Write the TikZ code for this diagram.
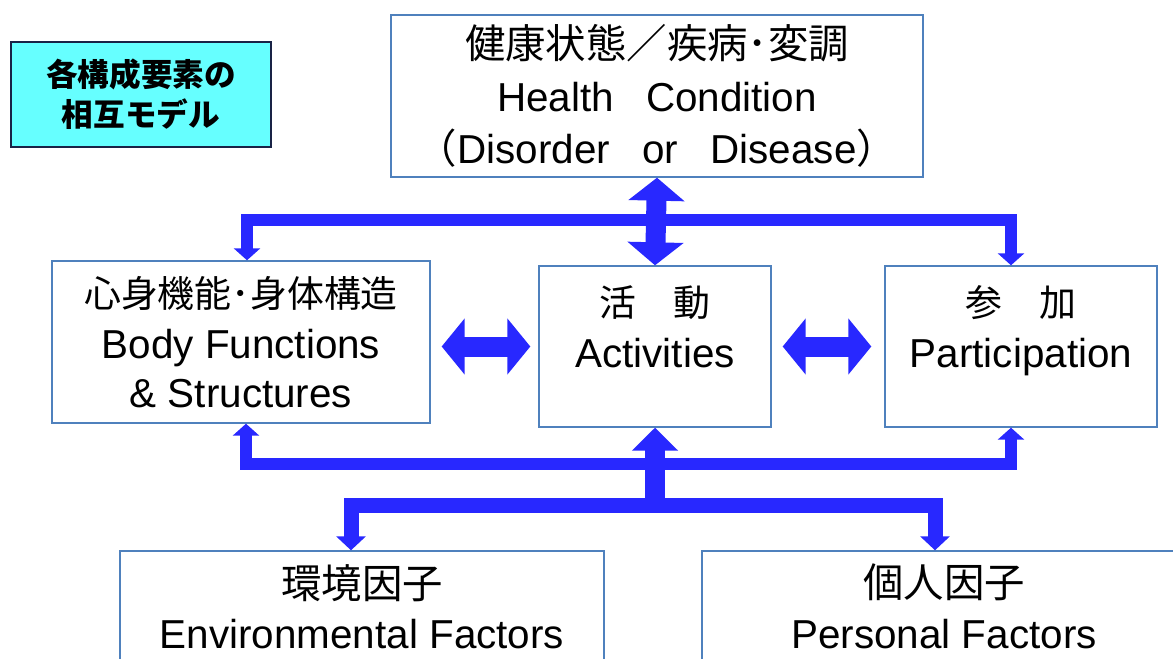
\documentclass[tikz,border=0pt]{standalone}
\usepackage{fontspec}
\setmainfont{Liberation Sans}
\newfontfamily\jp{Noto Sans CJK JP}
\usetikzlibrary{arrows.meta}

\definecolor{boxline}{RGB}{79,129,189}
\definecolor{arrowblue}{RGB}{40,40,255}
\definecolor{tagfill}{RGB}{102,255,255}
\definecolor{tagline}{RGB}{25,35,70}

\begin{document}
\begin{tikzpicture}[x=0.02cm,y=-0.02cm]
\tikzset{factor/.style={draw=boxline,line width=0.8pt,fill=white,align=center,inner sep=0pt,font=\fontsize{23}{29}\selectfont}}
\tikzset{tag/.style={draw=tagline,line width=1.2pt,fill=tagfill,align=center,inner sep=0pt,minimum width=5.2cm,minimum height=2.1cm,font=\jp\bfseries\fontsize{18}{23}\selectfont}}
\tikzset{blockarrow/.style={draw=arrowblue,line width=0.4cm}}
\tikzset{barline/.style={draw=arrowblue,line width=0.23cm}}
\tikzset{lowline/.style={draw=arrowblue,line width=0.3cm}}
\tikzset{bighead/.tip={Triangle[width=1.1cm,length=0.46cm]}}
\tikzset{uphead/.tip={Triangle[width=0.9cm,length=0.46cm]}}
\tikzset{smallhead/.tip={Triangle[width=0.52cm,length=0.24cm]}}
\tikzset{lowhead/.tip={Triangle[width=0.58cm,length=0.28cm]}}

\useasboundingbox (0,0) rectangle (1173,659);
\clip (0,0) rectangle (1173,659);

% boxes
\node[tag] (title) at (141,94.5) {各構成要素の\\相互モデル};
\node[factor,minimum width=10.64cm,minimum height=3.24cm,font=\fontsize{23}{30}\selectfont] (hc) at (657,96)
  {{\jp 健康状態／疾病･変調}\\Health\hspace{0.8em}Condition\\{\jp （}Disorder\hspace{0.8em}or\hspace{0.8em}Disease{\jp ）}};
\node[factor,minimum width=7.56cm,minimum height=3.24cm] (body) at (241,342)
  {{\jp\fontsize{21}{29}\selectfont 心身機能･身体構造}\\Body Functions\\[-0.05cm]\& Structures};
\node[factor,minimum width=4.64cm,minimum height=3.22cm] (act) at (655,346.5)
  {{\jp\fontsize{21}{29}\selectfont 活　動}\\Activities\\[-0.22cm]\mbox{}};
\node[factor,minimum width=5.44cm,minimum height=3.22cm] (part) at (1021,346.5)
  {{\jp\fontsize{21}{29}\selectfont 参　加}\\Participation\\[-0.22cm]\mbox{}};
\node[factor,minimum width=9.68cm,minimum height=3.44cm] (env) at (362,637)
  {{\jp 環境因子}\\Environmental Factors\\[0.2cm]\mbox{}};
\node[factor,minimum width=9.68cm,minimum height=3.44cm] (pers) at (944,637)
  {{\jp 個人因子}\\Personal Factors\\[0.2cm]\mbox{}};

% junctions
\coordinate (topjoin) at (hc.south |- 0,220);
\coordinate (midjoin) at (act.south |- 0,464);
\coordinate (lowjoin) at (act.south |- 0,505);

% arrows
\draw[blockarrow,bighead-bighead] (hc.south) -- (act.north);
\draw[barline,-smallhead] (topjoin) -| ([xshift=0.12cm]body.north);
\draw[barline,-smallhead] (topjoin) -| ([xshift=-0.2cm]part.north);
\draw[blockarrow,bighead-bighead,shorten <=0.22cm,shorten >=0.16cm] (body.east |- act.west) -- (act.west);
\draw[blockarrow,bighead-bighead,shorten <=0.22cm,shorten >=0.26cm] (act.east) -- (part.west);
\draw[blockarrow,-uphead] (lowjoin) -- (act.south);
\draw[barline,-smallhead] (midjoin) -| ([xshift=0.1cm]body.south);
\draw[barline,-smallhead] (midjoin) -| ([xshift=-0.2cm]part.south);
\draw[lowline,-lowhead] (lowjoin) -| ([xshift=-0.22cm]env.north);
\draw[lowline,-lowhead] (lowjoin) -| ([xshift=-0.18cm]pers.north);

\end{tikzpicture}
\end{document}
